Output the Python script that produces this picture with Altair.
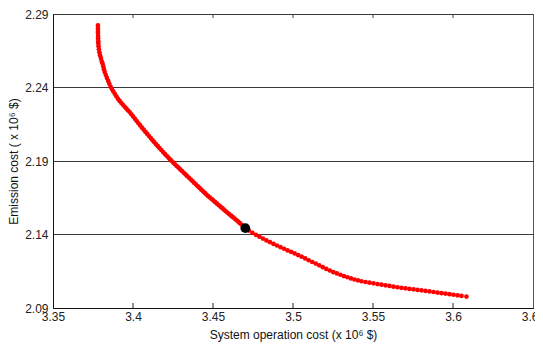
import altair as alt
import pandas as pd

# Pareto front (x: system operation cost, y: emission cost; both x 10^6 $)
front_x = [
    3.3781, 3.3781, 3.3781, 3.3781, 3.3782, 3.3782, 3.3783, 3.3783, 3.3785, 3.3787,
    3.3790, 3.3794, 3.3799, 3.3804, 3.3809, 3.3814, 3.3818, 3.3823, 3.3830, 3.3837,
    3.3845, 3.3852, 3.3860, 3.3868, 3.3877, 3.3886, 3.3896, 3.3906, 3.3916, 3.3926,
    3.3937, 3.3948, 3.3958, 3.3968, 3.3979,
    3.4001, 3.4023, 3.4045, 3.4067, 3.4089, 3.4111, 3.4133, 3.4155, 3.4177, 3.4199,
    3.4221, 3.4240,
    3.4262, 3.4284, 3.4306, 3.4328, 3.4350, 3.4372, 3.4394, 3.4416, 3.4438, 3.4459,
    3.4481, 3.4503, 3.4525, 3.4547, 3.4569, 3.4591, 3.4613, 3.4635, 3.4657, 3.4679,
    3.4702, 3.4724, 3.4746, 3.4768, 3.4790, 3.4812, 3.4834, 3.4856, 3.4878, 3.4900,
    3.4922, 3.4944, 3.4966, 3.4988, 3.5010, 3.5032,
    3.5054, 3.5076, 3.5098, 3.5120, 3.5142, 3.5164, 3.5186, 3.5208, 3.5230, 3.5252,
    3.5274, 3.5296, 3.5318, 3.5340, 3.5362, 3.5384, 3.5406, 3.5428,
    3.5453, 3.5478, 3.5503, 3.5528, 3.5553, 3.5578, 3.5603, 3.5628, 3.5653,
    3.5678, 3.5703, 3.5728, 3.5753, 3.5778, 3.5803, 3.5828, 3.5853, 3.5878,
    3.5903, 3.5928, 3.5953, 3.5978, 3.6003, 3.6028, 3.6053, 3.6084,
    # dense middle stretch
    3.3990, 3.4012, 3.4034, 3.4056, 3.4078, 3.4100, 3.4122, 3.4144, 3.4166, 3.4188,
    3.4210, 3.4231, 3.4251, 3.4273, 3.4295, 3.4317, 3.4339, 3.4361, 3.4383, 3.4405,
    3.4427, 3.4449, 3.4470, 3.4492, 3.4514, 3.4536, 3.4558, 3.4580, 3.4602, 3.4624,
    3.4646, 3.4668, 3.4690,
]
front_y = [
    2.2822, 2.2800, 2.2785, 2.2770, 2.2750, 2.2735, 2.2715, 2.2700, 2.2680, 2.2660,
    2.2640, 2.2620, 2.2600, 2.2580, 2.2565, 2.2545, 2.2525, 2.2505, 2.2485, 2.2465,
    2.2445, 2.2425, 2.2405, 2.2390, 2.2373, 2.2357, 2.2340, 2.2323, 2.2309, 2.2296,
    2.2282, 2.2269, 2.2257, 2.2245, 2.2233,
    2.2202, 2.2172, 2.2142, 2.2113, 2.2084, 2.2056, 2.2028, 2.2001, 2.1974, 2.1948,
    2.1923, 2.1902,
    2.1878, 2.1855, 2.1832, 2.1809, 2.1786, 2.1763, 2.1740, 2.1717, 2.1694, 2.1672,
    2.1651, 2.1631, 2.1610, 2.1589, 2.1569, 2.1548, 2.1528, 2.1508, 2.1488, 2.1466,
    2.1443, 2.1427, 2.1412, 2.1398, 2.1385, 2.1372, 2.1360, 2.1348, 2.1336, 2.1325,
    2.1314, 2.1303, 2.1292, 2.1282, 2.1271, 2.1260,
    2.1249, 2.1237, 2.1225, 2.1213, 2.1202, 2.1190, 2.1178, 2.1166, 2.1155, 2.1144,
    2.1135, 2.1126, 2.1117, 2.1109, 2.1101, 2.1094, 2.1088, 2.1082,
    2.1077, 2.1072, 2.1068, 2.1063, 2.1059, 2.1054, 2.1050, 2.1045, 2.1041,
    2.1037, 2.1034, 2.1030, 2.1027, 2.1023, 2.1020, 2.1016, 2.1013, 2.1009,
    2.1005, 2.1001, 2.0998, 2.0994, 2.0990, 2.0986, 2.0982, 2.0978,
    # dense middle stretch
    2.2218, 2.2187, 2.2157, 2.2127, 2.2098, 2.2070, 2.2042, 2.2014, 2.1987, 2.1961,
    2.1935, 2.1912, 2.1890, 2.1866, 2.1843, 2.1820, 2.1797, 2.1774, 2.1751, 2.1728,
    2.1705, 2.1683, 2.1661, 2.1641, 2.1620, 2.1599, 2.1579, 2.1558, 2.1537, 2.1518,
    2.1498, 2.1477, 2.1455,
]

# Best compromise solution (black dot)
best_x = [3.4702]
best_y = [2.1443]

x_ticks = [3.35, 3.4, 3.45, 3.5, 3.55, 3.6, 3.65]
y_ticks = [2.09, 2.14, 2.19, 2.24, 2.29]
inner_ticks = [3.4, 3.45, 3.5, 3.55, 3.6]

W, H = 480, 294
FONT = "Liberation Sans"

front = pd.DataFrame({"x": front_x, "y": front_y})
best = pd.DataFrame({"x": best_x, "y": best_y})
ticks = pd.DataFrame({"x": inner_ticks})

xscale = alt.Scale(domain=[3.35, 3.65], nice=False, zero=False)
yscale = alt.Scale(domain=[2.09, 2.29], nice=False, zero=False)

xaxis = alt.Axis(
    values=x_ticks,
    labelExpr="format(datum.value, '.2~f')",
    grid=False,
    ticks=False,
    domainColor="#111111",
    labelColor="#222222",
    labelFont=FONT,
    labelFontSize=12,
    labelPadding=3,
    labelFlush=False,
    title="System operation cost (x 10\u2076 $)",
    titleFont=FONT,
    titleFontSize=12,
    titleFontWeight="normal",
    titleColor="#111111",
    titlePadding=7,
)
yaxis = alt.Axis(
    values=y_ticks,
    format=".2f",
    grid=True,
    gridColor="#3a3a3a",
    gridWidth=1,
    ticks=False,
    domainColor="#111111",
    labelColor="#222222",
    labelFont=FONT,
    labelFontSize=12,
    labelPadding=5,
    labelFlush=False,
    title="Emission cost ( x 10\u2076 $)",
    titleFont=FONT,
    titleFontSize=12,
    titleFontWeight="normal",
    titleColor="#111111",
    titlePadding=4,
)

pts = alt.Chart(front).mark_circle(size=22, color="#ff0000", opacity=1).encode(
    x=alt.X("x:Q", scale=xscale, axis=xaxis),
    y=alt.Y("y:Q", scale=yscale, axis=yaxis),
)

dot = alt.Chart(best).mark_circle(size=95, color="#000000", opacity=1).encode(
    x=alt.X("x:Q", scale=xscale),
    y=alt.Y("y:Q", scale=yscale),
)

top_ticks = alt.Chart(ticks).mark_rule(color="#444444", strokeWidth=1).encode(
    x=alt.X("x:Q", scale=xscale),
    y=alt.value(0),
    y2=alt.value(4),
)
bottom_ticks = alt.Chart(ticks).mark_rule(color="#222222", strokeWidth=1).encode(
    x=alt.X("x:Q", scale=xscale),
    y=alt.value(H - 5),
    y2=alt.value(H),
)

chart = (
    alt.layer(top_ticks, bottom_ticks, pts, dot)
    .properties(
        width=W,
        height=H,
        autosize=alt.AutoSizeParams(type="none"),
        padding={"left": 45, "top": 6, "right": 2, "bottom": 40},
        background="white",
    )
    .configure_view(stroke="#555555", strokeWidth=1)
)

chart.save("out.html", embed_options={"renderer": "svg", "actions": False})
